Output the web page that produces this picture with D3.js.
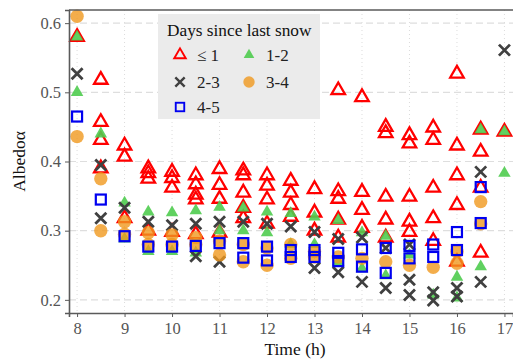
<!DOCTYPE html>
<html>
<head>
<meta charset="utf-8">
<script src="https://cdn.jsdelivr.net/npm/d3@7"></script>
<style>
  body { margin: 0; background: #fff; }
</style>
</head>
<body>
<svg id="chart" width="513" height="361"></svg>
<script>
// Albedo by hour of day, grouped by days since last snow
const xTicks = [8, 9, 10, 11, 12, 13, 14, 15, 16, 17];
const yTicks = [0.2, 0.3, 0.4, 0.5, 0.6];
const groupLabels = ["≤ 1", "1-2", "2-3", "3-4", "4-5"];

// [hour, albedo]
const daysLe1 = [
  [8, 0.58],
  [8.5, 0.518], [8.5, 0.457], [8.5, 0.431], [8.5, 0.39],
  [9, 0.423], [9, 0.407], [9, 0.318],
  [9.5, 0.39], [9.5, 0.383], [9.5, 0.375], [9.5, 0.30],
  [10, 0.385], [10, 0.376], [10, 0.362], [10, 0.298],
  [10.5, 0.38], [10.5, 0.367], [10.5, 0.352], [10.5, 0.345], [10.5, 0.295],
  [11, 0.389], [11, 0.366], [11, 0.346], [11, 0.297],
  [11.5, 0.387], [11.5, 0.38], [11.5, 0.355], [11.5, 0.333], [11.5, 0.318],
  [12, 0.38], [12, 0.365], [12, 0.345], [12, 0.31],
  [12.5, 0.372], [12.5, 0.355], [12.5, 0.337], [12.5, 0.32],
  [13, 0.36], [13, 0.326], [13, 0.30],
  [13.5, 0.503], [13.5, 0.357], [13.5, 0.346], [13.5, 0.316], [13.5, 0.29],
  [14, 0.493], [14, 0.356], [14, 0.33], [14, 0.304],
  [14.5, 0.45], [14.5, 0.441], [14.5, 0.349], [14.5, 0.316], [14.5, 0.29],
  [15, 0.438], [15, 0.426], [15, 0.349], [15, 0.313], [15, 0.298],
  [15.5, 0.449], [15.5, 0.431], [15.5, 0.362], [15.5, 0.318], [15.5, 0.285],
  [16, 0.527], [16, 0.423], [16, 0.38], [16, 0.337], [16, 0.255],
  [16.5, 0.446], [16.5, 0.414], [16.5, 0.362], [16.5, 0.268],
  [17, 0.443]
];

const days1to2 = [
  [8, 0.58], [8, 0.50],
  [8.5, 0.44],
  [9, 0.34], [9, 0.288],
  [9.5, 0.327], [9.5, 0.27],
  [10, 0.326], [10, 0.27],
  [10.5, 0.329], [10.5, 0.268],
  [11, 0.334], [11, 0.30],
  [11.5, 0.333], [11.5, 0.30],
  [12, 0.327], [12, 0.297],
  [12.5, 0.325], [12.5, 0.28],
  [13, 0.32], [13, 0.28],
  [13.5, 0.315], [13.5, 0.255],
  [14, 0.297], [14, 0.245],
  [14.5, 0.292], [14.5, 0.235],
  [15, 0.265],
  [15.5, 0.207],
  [16, 0.233], [16, 0.203],
  [16.5, 0.446], [16.5, 0.248],
  [17, 0.443], [17, 0.383]
];

const days2to3 = [
  [8, 0.527],
  [8.5, 0.395], [8.5, 0.318],
  [9, 0.333],
  [9.5, 0.313],
  [10, 0.308],
  [10.5, 0.31], [10.5, 0.263],
  [11, 0.313], [11, 0.255],
  [11.5, 0.313],
  [12, 0.31],
  [12.5, 0.306],
  [13, 0.298], [13, 0.246],
  [13.5, 0.288], [13.5, 0.24],
  [14, 0.29], [14, 0.226],
  [14.5, 0.275], [14.5, 0.217],
  [15, 0.28], [15, 0.229], [15, 0.207],
  [15.5, 0.211], [15.5, 0.199],
  [16, 0.217], [16, 0.205],
  [16.5, 0.385], [16.5, 0.226],
  [17, 0.561]
];

const days3to4 = [
  [8, 0.61], [8, 0.436],
  [8.5, 0.375], [8.5, 0.30],
  [9, 0.313], [9, 0.295],
  [9.5, 0.297], [9.5, 0.28],
  [10, 0.294], [10, 0.28],
  [10.5, 0.29], [10.5, 0.28],
  [11, 0.285], [11, 0.265],
  [11.5, 0.28], [11.5, 0.255],
  [12, 0.275], [12, 0.25],
  [12.5, 0.28], [12.5, 0.26],
  [13, 0.27], [13, 0.262],
  [13.5, 0.262],
  [14, 0.26],
  [14.5, 0.255],
  [15, 0.25],
  [15.5, 0.247],
  [16, 0.253], [16, 0.27],
  [16.5, 0.342], [16.5, 0.31]
];

const days4to5 = [
  [8, 0.465],
  [8.5, 0.345],
  [9, 0.292],
  [9.5, 0.277],
  [10, 0.277],
  [10.5, 0.278],
  [11, 0.282],
  [11.5, 0.282], [11.5, 0.261],
  [12, 0.277], [12, 0.257],
  [12.5, 0.272], [12.5, 0.262],
  [13, 0.272], [13, 0.262],
  [13.5, 0.268], [13.5, 0.256],
  [14, 0.273], [14, 0.248],
  [14.5, 0.275], [14.5, 0.239],
  [15, 0.278], [15, 0.26],
  [15.5, 0.28], [15.5, 0.262],
  [16, 0.298], [16, 0.272],
  [16.5, 0.363], [16.5, 0.311]
];

const FONT = "'Liberation Serif', 'Times New Roman', Tinos, 'DejaVu Serif', 'Noto Serif', serif";

const svg = d3.select("#chart").attr("font-family", FONT);
const margin = { top: 10, right: 0, bottom: 48, left: 69 };
const width = 513 - margin.left - margin.right;
const height = 361 - margin.top - margin.bottom;

const x = d3.scaleLinear().domain([7.83, 17.18]).range([0, width]);
const y = d3.scaleLinear().domain([0.181, 0.619]).range([height, 0]);

const g = svg.append("g").attr("transform", `translate(${margin.left},${margin.top})`);

// grid
g.append("g").selectAll("line")
  .data(yTicks)
  .join("line")
  .attr("x1", 0).attr("x2", width)
  .attr("y1", d => y(d)).attr("y2", d => y(d))
  .attr("stroke", "#dedede").attr("stroke-width", 1.2)
  .attr("stroke-dasharray", "7,4");

g.append("g").selectAll("line")
  .data(xTicks)
  .join("line")
  .attr("x1", d => x(d)).attr("x2", d => x(d))
  .attr("y1", 0).attr("y2", height)
  .attr("stroke", "#dcdcdc").attr("stroke-width", 1)
  .attr("stroke-dasharray", "1,3");

// marker shapes
function triPath(s) {
  const h = s * Math.sqrt(3) / 2;
  return `M0,${-h * 2 / 3}L${s / 2},${h / 3}L${-s / 2},${h / 3}Z`;
}
function crossPath(s) {
  const a = s / 2;
  return `M${-a},${-a}L${a},${a}M${-a},${a}L${a},${-a}`;
}

const styles = [
  { data: daysLe1, draw: (sel, k) => sel.append("path").attr("d", triPath(13.5 * k)).attr("fill", "none").attr("stroke", "#ff0000").attr("stroke-width", 2.3 * k) },
  { data: days1to2, draw: (sel, k) => sel.append("path").attr("d", triPath(12.5 * k)).attr("fill", "#4fcc4f").attr("fill-opacity", 0.9) },
  { data: days2to3, draw: (sel, k) => sel.append("path").attr("d", crossPath(11 * k)).attr("fill", "none").attr("stroke", "#404040").attr("stroke-width", 2.8 * k) },
  { data: days3to4, draw: (sel, k) => sel.append("circle").attr("r", 6.7 * k).attr("fill", "#f0991e").attr("fill-opacity", 0.8) },
  { data: days4to5, draw: (sel, k) => sel.append("rect").attr("x", -5 * k).attr("y", -5 * k).attr("width", 10 * k).attr("height", 10 * k).attr("fill", "none").attr("stroke", "#0000f0").attr("stroke-width", 2.2 * k) }
];

const plot = g.append("g");
styles.forEach(st => {
  st.data.forEach(d => {
    const m = plot.append("g").attr("transform", `translate(${x(d[0])},${y(d[1])})`);
    st.draw(m, 1);
  });
});

// axes
const yAxis = g.append("g")
  .call(d3.axisLeft(y).tickValues(yTicks).tickFormat(d3.format(".1f")).tickSize(4).tickPadding(4));
const xAxis = g.append("g")
  .attr("transform", `translate(0,${height})`)
  .call(d3.axisBottom(x).tickValues(xTicks).tickSize(4).tickPadding(5));
[yAxis, xAxis].forEach(a => {
  a.attr("font-family", FONT).attr("font-size", 16.5);
  a.select(".domain").attr("stroke", "#5a5a5a").attr("stroke-width", 1.6);
  a.selectAll(".tick line").attr("stroke", "#5a5a5a");
  a.selectAll(".tick text").attr("fill", "#555");
});
g.append("line")
  .attr("x1", 0).attr("x2", width).attr("y1", 0).attr("y2", 0)
  .attr("stroke", "#5a5a5a").attr("stroke-width", 1.6);

// axis titles
svg.append("text")
  .attr("transform", `translate(25,${margin.top + height / 2}) rotate(-90)`)
  .attr("text-anchor", "middle")
  .attr("font-size", 17.5).attr("fill", "#111")
  .text("Albedoα");
svg.append("text")
  .attr("x", margin.left + width / 2 + 4).attr("y", 355)
  .attr("text-anchor", "middle")
  .attr("font-size", 17.5).attr("fill", "#111")
  .text("Time (h)");

// legend
const legend = svg.append("g").attr("transform", "translate(158,14)");
legend.append("rect").attr("width", 162).attr("height", 105).attr("fill", "#ebebeb");
legend.append("text").attr("x", 9).attr("y", 22)
  .attr("font-size", 17.3).attr("fill", "#111")
  .text("Days since last snow");
const legendPos = [[22, 41], [91, 41], [22, 68], [91, 68], [22, 93]];
styles.forEach((st, i) => {
  const item = legend.append("g").attr("transform", `translate(${legendPos[i][0]},${legendPos[i][1]})`);
  st.draw(item, 0.85);
  item.append("text").attr("x", 17).attr("y", 5.5)
    .attr("font-size", 17).attr("fill", "#222")
    .text(groupLabels[i]);
});
</script>
</body>
</html>
